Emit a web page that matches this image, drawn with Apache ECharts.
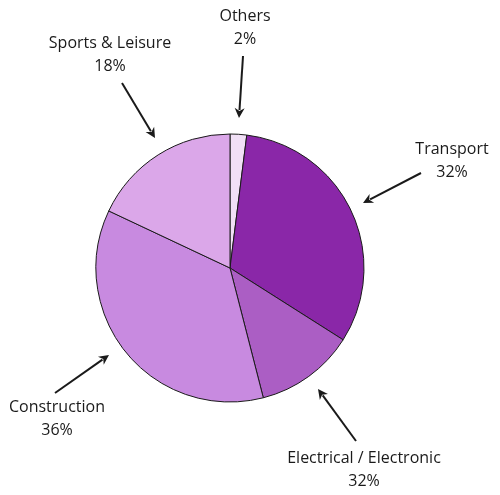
<!DOCTYPE html>
<html>
<head>
<meta charset="utf-8">
<script src="https://cdn.jsdelivr.net/npm/echarts@6/dist/echarts.min.js"></script>
<style>
  html, body { margin: 0; padding: 0; background: #fff; }
  #pie { width: 500px; height: 495px; }
</style>
</head>
<body>
<div id="pie"></div>
<script>
// slices, clockwise from 12 o'clock
const sectors = ['Others', 'Transport', 'Electrical / Electronic', 'Construction', 'Sports & Leisure'];
const shares = [2, 32, 12, 36, 18];
// percentages as printed on the chart
const printed = ['2%', '32%', '32%', '36%', '18%'];
const colors = ['#f1e0f6', '#8a27a8', '#ab5ec4', '#c88ae0', '#dba7e9'];

// label centres and arrows (from -> to)
const labelPos = [[245, 28], [452, 161], [364, 470], [57, 419], [110, 55]];
const arrows = [
  [[243, 56], [239, 118]],
  [[421, 173], [363, 203]],
  [[356, 441], [318, 389]],
  [[55, 393], [109, 355]],
  [[122, 83], [155, 138]]
];

function arrowShapes(from, to) {
  const dx = to[0] - from[0], dy = to[1] - from[1];
  const len = Math.sqrt(dx * dx + dy * dy);
  const ux = dx / len, uy = dy / len;
  const hl = 10, hw = 5;
  const bx = to[0] - ux * hl, by = to[1] - uy * hl;
  return [
    {
      type: 'line',
      shape: { x1: from[0], y1: from[1], x2: bx + ux * 2, y2: by + uy * 2 },
      style: { stroke: '#1a1a1a', lineWidth: 2 }
    },
    {
      type: 'polygon',
      shape: {
        points: [
          [to[0], to[1]],
          [bx - uy * hw, by + ux * hw],
          [bx + ux * 3, by + uy * 3],
          [bx + uy * hw, by - ux * hw]
        ]
      },
      style: { fill: '#1a1a1a' }
    }
  ];
}

let chartDom = document.getElementById('pie');
let myChart = echarts.init(chartDom);
let option;

let graphics = [];
arrows.forEach(a => { graphics = graphics.concat(arrowShapes(a[0], a[1])); });

option = {
  animation: false,
  graphic: graphics,
  series: [
    {
      type: 'pie',
      center: [230, 268],
      radius: 134,
      startAngle: 90,
      clockwise: true,
      data: sectors.map((s, i) => ({
        name: s,
        value: shares[i],
        itemStyle: { color: colors[i] }
      })),
      itemStyle: { borderColor: '#1a1a1a', borderWidth: 1 },
      label: {
        show: true,
        position: 'outside',
        formatter: p => p.name + '\n' + printed[p.dataIndex],
        fontFamily: 'Open Sans',
        fontSize: 16,
        lineHeight: 23,
        color: '#1a1a1a',
        align: 'center',
        width: 220,
        overflow: 'none'
      },
      labelLine: { show: false },
      labelLayout: function (params) {
        const pos = labelPos[params.dataIndex];
        return { x: pos[0], y: pos[1], align: 'center', verticalAlign: 'middle' };
      },
      emphasis: { disabled: true }
    }
  ]
};
option && myChart.setOption(option);
</script>
</body>
</html>
